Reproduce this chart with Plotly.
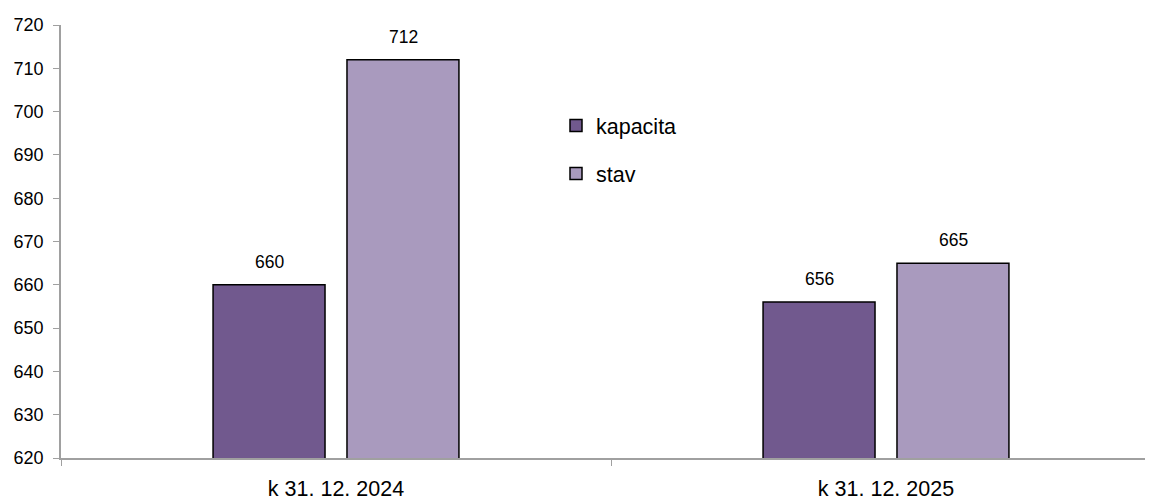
import plotly.graph_objects as go

categories = ["k 31. 12. 2024", "k 31. 12. 2025"]
kapacita = [660, 656]
stav = [712, 665]
series_names = ["kapacita", "stav"]
colors = ["#71598E", "#A99ABE"]

FONT = "Liberation Sans, Arial, sans-serif"

fig = go.Figure()
annotations = []
shifts = [-67, 67]
for i, (name, vals) in enumerate(zip(series_names, [kapacita, stav])):
    fig.add_trace(go.Bar(
        x=categories, y=vals, name=name, legendgroup=name,
        marker=dict(color=colors[i], line=dict(color="#000000", width=1.5)),
    ))
    for c, v in zip(categories, vals):
        annotations.append(dict(x=c, y=v, text=str(v), showarrow=False,
                                xref="x", yref="y", yanchor="bottom",
                                xshift=shifts[i], yshift=11,
                                font=dict(size=17.5, color="#000000", family=FONT)))

fig.update_layout(
    width=1153, height=493,
    margin=dict(l=53, r=0, t=17, b=43, autoexpand=False),
    plot_bgcolor="white", paper_bgcolor="white",
    font=dict(family=FONT, size=18, color="#000000"),
    barmode="group", bargap=0.513, bargroupgap=0.164,
    showlegend=True,
    annotations=annotations,
    legend=dict(x=0.45, y=0.815, xanchor="left", yanchor="top",
                font=dict(size=21.5), tracegroupgap=17,
                bgcolor="rgba(0,0,0,0)"),
    xaxis=dict(showline=True, linecolor="#A0A0A0", linewidth=1.5,
               ticks="outside", tickson="boundaries", ticklen=6, tickcolor="#A0A0A0",
               tickfont=dict(size=21.5), showgrid=False, ticklabelstandoff=10),
    yaxis=dict(range=[620, 720], dtick=10, showline=True, linecolor="#A0A0A0", linewidth=1.5,
               ticks="outside", ticklen=6, tickcolor="#A0A0A0", showgrid=False,
               zeroline=False, tickfont=dict(size=18), ticklabelstandoff=6),
)

fig.write_html("out.html")
